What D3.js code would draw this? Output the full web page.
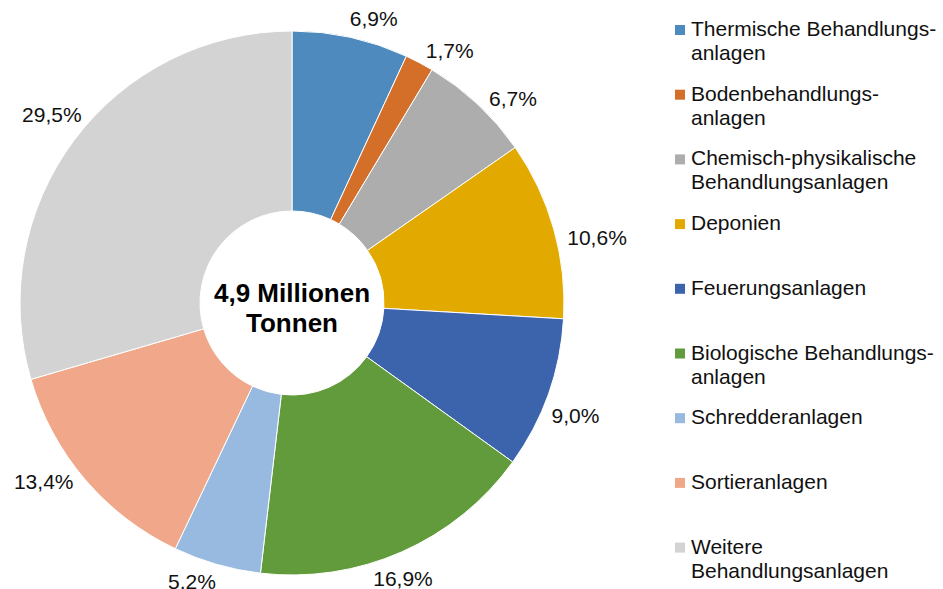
<!DOCTYPE html>
<head>
    <meta charset="utf-8">
    <style>
        body{
            margin: 0;
            background: #fff;
        }
        svg{
            display: block;
        }
        .lbl, .legend text{
            font-family: 'Liberation Sans', Arial, sans-serif;
            font-size: 21px;
            fill: #111;
        }
        .center{
            font-family: 'Liberation Sans', Arial, sans-serif;
            font-size: 26px;
            font-weight: bold;
            fill: #000;
        }
    </style>
</head>
<body>
    <div id="chart"></div>
    <script src="https://d3js.org/d3.v7.min.js"></script>
    <script>
        // data, clockwise from 12 o'clock
        var categories = [
            "Thermische Behandlungs-\nanlagen",
            "Bodenbehandlungs-\nanlagen",
            "Chemisch-physikalische\nBehandlungsanlagen",
            "Deponien",
            "Feuerungsanlagen",
            "Biologische Behandlungs-\nanlagen",
            "Schredderanlagen",
            "Sortieranlagen",
            "Weitere\nBehandlungsanlagen"
        ];
        var shares = [6.9, 1.7, 6.7, 10.6, 9.0, 16.9, 5.2, 13.4, 29.5];
        var colors = ["#4f8abe", "#d36f29", "#adadad", "#e2aa00", "#3b64ad",
                      "#629b3c", "#98bae0", "#f1a88a", "#d3d3d3"];
        var centerLines = ["4,9 Millionen", "Tonnen"];

        var width = 943, height = 589;
        var cx = 292, cy = 303,
            outerR = 272, innerR = 92;

        var de = d3.formatLocale({decimal: ",", thousands: ".", grouping: [3], currency: ["", " €"]});
        var fmt = de.format(".1f");

        var svg = d3.select("#chart").append("svg")
            .attr("width", width)
            .attr("height", height);

        var g = svg.append("g")
            .attr("transform", "translate(" + cx + "," + cy + ")");

        var pie = d3.pie().sort(null).value(function(d) { return d; });
        var arc = d3.arc().innerRadius(innerR).outerRadius(outerR);
        var arcs = pie(shares);

        g.selectAll("path")
            .data(arcs)
            .enter().append("path")
            .attr("d", arc)
            .attr("fill", function(d, i) { return colors[i]; })
            .attr("stroke", "#fff")
            .attr("stroke-width", 1);

        // percent labels outside the ring
        var pad = 11, nudge = 3 * Math.PI / 180;
        g.selectAll(".lbl")
            .data(arcs)
            .enter().append("text")
            .attr("class", "lbl")
            .attr("text-anchor", "middle")
            .attr("dy", "0.35em")
            .text(function(d) { return fmt(d.data) + "%"; })
            .each(function(d) {
                var a = (d.startAngle + d.endAngle) / 2 + nudge;
                var box = this.getBBox();
                var s = Math.sin(a), c = Math.cos(a);
                var x = (outerR + pad) * s + s * box.width / 2;
                var y = -(outerR + pad) * c - c * box.height / 2;
                d3.select(this).attr("x", x).attr("y", y);
            });

        // text in the hole
        g.selectAll(".center")
            .data(centerLines)
            .enter().append("text")
            .attr("class", "center")
            .attr("text-anchor", "middle")
            .attr("x", 0)
            .attr("y", function(d, i) { return -1 + i * 30; })
            .text(function(d) { return d; });

        // legend
        var legend = svg.append("g")
            .attr("class", "legend")
            .attr("transform", "translate(675,36)");

        var item = legend.selectAll("g")
            .data(categories)
            .enter().append("g")
            .attr("transform", function(d, i) { return "translate(0," + (i * 64.7) + ")"; });

        item.append("rect")
            .attr("x", 0)
            .attr("y", -11)
            .attr("width", 10)
            .attr("height", 10)
            .attr("fill", function(d, i) { return colors[i]; });

        item.append("text")
            .attr("x", 16)
            .selectAll("tspan")
            .data(function(d) { return d.split("\n"); })
            .enter().append("tspan")
            .attr("x", 16)
            .attr("y", function(d, i) { return i * 24; })
            .text(function(d) { return d; });
    </script>
</body>
